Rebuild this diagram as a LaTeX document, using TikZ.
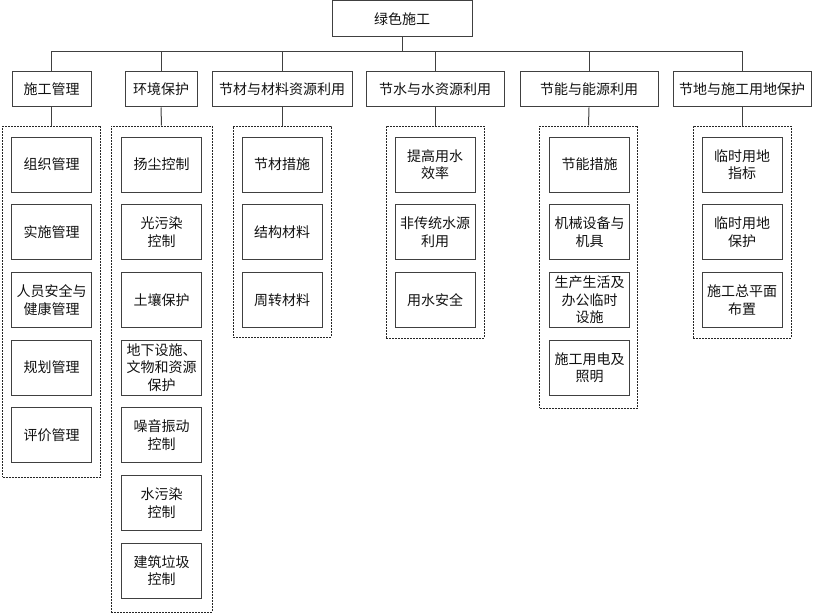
\documentclass[tikz,border=0pt]{standalone}
\usepackage{fontspec}
\setmainfont{Noto Sans CJK SC}
\usetikzlibrary{positioning}
\definecolor{edge}{HTML}{404040}
\definecolor{ink}{HTML}{111111}
\newcommand\boxfont{\fontsize{14}{17.6}\selectfont}
\tikzset{
  topbox/.style   = {rectangle, draw=edge, line width=1pt, minimum width=140pt, minimum height=36pt,
                     inner sep=1pt, font=\boxfont, text=ink, align=center},
  catbox/.style   = {rectangle, draw=edge, line width=1pt, minimum height=35pt,
                     inner sep=1pt, font=\boxfont, text=ink, align=center},
  itembox/.style  = {rectangle, draw=edge, line width=1pt, minimum width=80pt, minimum height=55pt,
                     inner sep=1pt, font=\boxfont, text=ink, align=center},
  groupbox/.style = {rectangle, draw=black!85, line width=1pt, dash pattern=on 2pt off 1pt,
                     minimum width=98pt},
  link/.style     = {draw=edge, line width=1pt}
}

\begin{document}
\begin{tikzpicture}[x=1pt, y=-1pt, node distance=11.7pt]
  \useasboundingbox (0,0) rectangle (813,615);
  % top and categories
  \node[topbox] (root) at (402,19) {绿色施工};
  \node[catbox, minimum width=79pt]  (c1) at (51.5,89.5) {施工管理};
  \node[catbox, minimum width=72pt]  (c2) at (161,89.5)  {环境保护};
  \node[catbox, minimum width=140pt] (c3) at (282,89.5)  {节材与材料资源利用};
  \node[catbox, minimum width=138pt] (c4) at (435,89.5)  {节水与水资源利用};
  \node[catbox, minimum width=138pt] (c5) at (589,89.5)  {节能与能源利用};
  \node[catbox, minimum width=138pt] (c6) at (742,89.5)  {节地与施工用地保护};
  \coordinate (bus) at (0,52);
  \draw[link] (root.south) -- (root.south |- bus);
  \draw[link] (c1.north) |- (c6.north |- bus) -- (c6.north);
  \draw[link] (c2.north) -- (c2.north |- bus);
  \draw[link] (c3.north) -- (c3.north |- bus);
  \draw[link] (c4.north) -- (c4.north |- bus);
  \draw[link] (c5.north) -- (c5.north |- bus);

  % dashed groups
  \node[groupbox, minimum height=351pt] (g1) at (51.5,301.5) {};
  \node[groupbox, minimum height=486pt, minimum width=101pt] (g2) at (161.5,369) {};
  \node[groupbox, minimum height=211pt] (g3) at (282,231.5) {};
  \node[groupbox, minimum height=212pt] (g4) at (435,232) {};
  \node[groupbox, minimum height=282pt] (g5) at (588.5,267) {};
  \node[groupbox, minimum height=212pt] (g6) at (742,232) {};
  \draw[link] (c1.south) -- (g1.north);
  \draw[link] (c2.south) -- (g2.north);
  \draw[link] (c3.south) -- (g3.north);
  \draw[link] (c4.south) -- (g4.north);
  \draw[link] (c5.south) -- (g5.north);
  \draw[link] (c6.south) -- (g6.north);

  % 施工管理
  \node[itembox] (c1a) at (51.5,164.5) {组织管理};
  \node[itembox, below=of c1a] (c1b) {实施管理};
  \node[itembox, below=of c1b] (c1c) {人员安全与\\健康管理};
  \node[itembox, below=of c1c] (c1d) {规划管理};
  \node[itembox, below=of c1d] (c1e) {评价管理};

  % 环境保护
  \node[itembox] (c2a) at (161.5,164.5) {扬尘控制};
  \node[itembox, below=of c2a] (c2b) {光污染\\控制};
  \node[itembox, below=of c2b] (c2c) {土壤保护};
  \node[itembox, below=of c2c] (c2d) {地下设施、\\文物和资源\\保护};
  \node[itembox, below=of c2d] (c2e) {噪音振动\\控制};
  \node[itembox, below=of c2e] (c2f) {水污染\\控制};
  \node[itembox, below=of c2f] (c2g) {建筑垃圾\\控制};

  % 节材
  \node[itembox] (c3a) at (282,164.5) {节材措施};
  \node[itembox, below=of c3a] (c3b) {结构材料};
  \node[itembox, below=of c3b] (c3c) {周转材料};

  % 节水
  \node[itembox] (c4a) at (435,164.5) {提高用水\\效率};
  \node[itembox, below=of c4a] (c4b) {非传统水源\\利用};
  \node[itembox, below=of c4b] (c4c) {用水安全};

  % 节能
  \node[itembox] (c5a) at (589.5,164.5) {节能措施};
  \node[itembox, below=of c5a] (c5b) {机械设备与\\机具};
  \node[itembox, below=of c5b] (c5c) {生产生活及\\办公临时\\设施};
  \node[itembox, below=of c5c] (c5d) {施工用电及\\照明};

  % 节地
  \node[itembox] (c6a) at (742,164.5) {临时用地\\指标};
  \node[itembox, below=of c6a] (c6b) {临时用地\\保护};
  \node[itembox, below=of c6b] (c6c) {施工总平面\\布置};
\end{tikzpicture}
\end{document}
